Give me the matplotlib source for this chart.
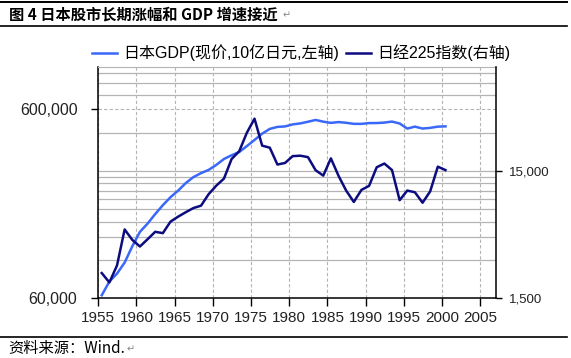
import numpy as np
import matplotlib.pyplot as plt
from matplotlib.lines import Line2D
from matplotlib.ticker import FixedLocator, FuncFormatter, NullLocator

plt.rcParams['font.family'] = ['Liberation Sans', 'Noto Sans CJK SC', 'DejaVu Sans']

# 46 annual points, placed as they sit on the chart's x axis
years = np.arange(1955, 2001) + 0.45
# GDP, current prices, 10 bn yen (left axis)
gdp = [62000, 73300, 80700, 92400, 112500, 134200, 148300, 166600, 185600, 204400,
       221500, 242800, 261100, 274100, 285100, 302900, 325400, 340600, 354200, 380700,
       410100, 442800, 469400, 480800, 483700, 495700, 501700, 511900, 523200, 512400,
       504900, 509900, 505500, 499100, 498900, 503700, 503900, 506700, 512900, 501200,
       471100, 482400, 471300, 475100, 482400, 484000]
# Nikkei 225 (right axis)
nikkei = [2360, 1990, 2710, 5210, 4310, 3820, 4360, 4990, 4870, 6000,
          6570, 7120, 7680, 8020, 9890, 11540, 13110, 18700, 21560, 30160,
          38920, 23850, 22980, 16920, 17420, 19720, 19870, 19360, 15260, 13840,
          18930, 13790, 10540, 8580, 10680, 11490, 16110, 17230, 15310, 8860,
          10550, 10230, 8460, 10400, 16290, 15300]

x_ticks = list(range(1955, 2006, 5))
gdp_ticks = [60000, 600000]
nk_ticks = [1500, 15000]
# right-axis minor grid levels (1500 steps, then 15000 steps)
nk_grid = [1500 * k for k in range(2, 11)] + [15000 * k for k in (2, 4, 5, 6)]

W, H = 571, 358
fig = plt.figure(figsize=(W / 100, H / 100), dpi=100)
ax = fig.add_axes([98.3 / W, 1 - 298 / H, (495.5 - 98.3) / W, (298 - 66.7) / H])
ax2 = ax.twinx()

grid_c = '#b4b4b4'
ax.set_xscale('linear')
ax.set_yscale('log')
ax2.set_yscale('log')
ax.set_xlim(1955, 2007)
ax.set_ylim(60000, 1000000)
ax2.set_ylim(1500, 100000)

# solid horizontal grid on the right-axis scale, drawn under both lines
for v in nk_grid:
    ax.plot([1955, 2007], [v, v], transform=ax2.transData,
            color=grid_c, lw=0.9, zorder=0.6)

ax.set_axisbelow(True)
ax.grid(axis='x', color=grid_c, ls=(0, (3, 2)), lw=0.8)
ax.grid(axis='y', which='major', color=grid_c, ls=(0, (3, 2)), lw=0.8)
ax.grid(axis='y', which='minor', visible=False)

ax.plot(years, gdp, color='#3a68f8', lw=1.8, label='日本GDP(现价,10亿日元,左轴)')
ax2.plot(years, nikkei, color='#0c0c80', lw=1.8, label='日经225指数(右轴)')

ax.xaxis.set_major_locator(FixedLocator(x_ticks))
ax.yaxis.set_major_locator(FixedLocator(gdp_ticks))
ax.yaxis.set_minor_locator(NullLocator())
ax.yaxis.set_major_formatter(FuncFormatter(lambda v, p: f'{v:,.0f}'))
ax2.yaxis.set_major_locator(FixedLocator(nk_ticks))
ax2.yaxis.set_minor_locator(NullLocator())
ax2.yaxis.set_major_formatter(FuncFormatter(lambda v, p: f'{v:,.0f}'))

ax.tick_params(axis='x', length=6, width=1, pad=3.5, labelsize=11, colors='black', labelcolor='#222222')
ax.tick_params(axis='y', length=5, width=1, pad=10, labelsize=11.5, labelcolor='#222222')
ax2.tick_params(axis='y', length=4, width=1, pad=6, labelsize=9.5, labelcolor='#222222')

for s in ['left', 'bottom']:
    ax.spines[s].set_color('black')
    ax.spines[s].set_linewidth(1.1)
ax.spines['right'].set_visible(False)
ax.spines['top'].set_color(grid_c)
for s in ['left', 'bottom', 'top']:
    ax2.spines[s].set_visible(False)
ax2.spines['right'].set_color('black')
ax2.spines['right'].set_linewidth(1.1)

h1, l1 = ax.get_legend_handles_labels()
h2, l2 = ax2.get_legend_handles_labels()
fig.legend(h1 + h2, l1 + l2, loc='center', bbox_to_anchor=(301.5 / W, 1 - 53 / H),
           ncol=2, frameon=False, fontsize=11.5, handlelength=1.55,
           handletextpad=0.4, columnspacing=0.45, borderaxespad=0)

# header / footer rules and texts
for y, lw in [(2, 1.4), (26, 1.2), (336.7, 1.2)]:
    fig.add_artist(Line2D([0, 567 / W], [1 - y / H, 1 - y / H], color='black',
                          lw=lw, transform=fig.transFigure))
fig.text(9 / W, 1 - 14.5 / H, '图 4 日本股市长期涨幅和 GDP 增速接近', fontsize=11,
         fontweight='bold', family=['Noto Sans CJK SC', 'DejaVu Sans'],
         ha='left', va='center')
fig.text(283 / W, 1 - 15 / H, '↵', fontsize=7, color='#888888',
         family='DejaVu Sans', ha='left', va='center')
fig.text(8 / W, 1 - 348 / H, '资料来源：Wind.', fontsize=11,
         family=['Noto Sans CJK SC', 'DejaVu Sans'], ha='left', va='center')
fig.text(127 / W, 1 - 349 / H, '↵', fontsize=7, color='#888888',
         family='DejaVu Sans', ha='left', va='center')

fig.savefig('out.png', dpi=100)
